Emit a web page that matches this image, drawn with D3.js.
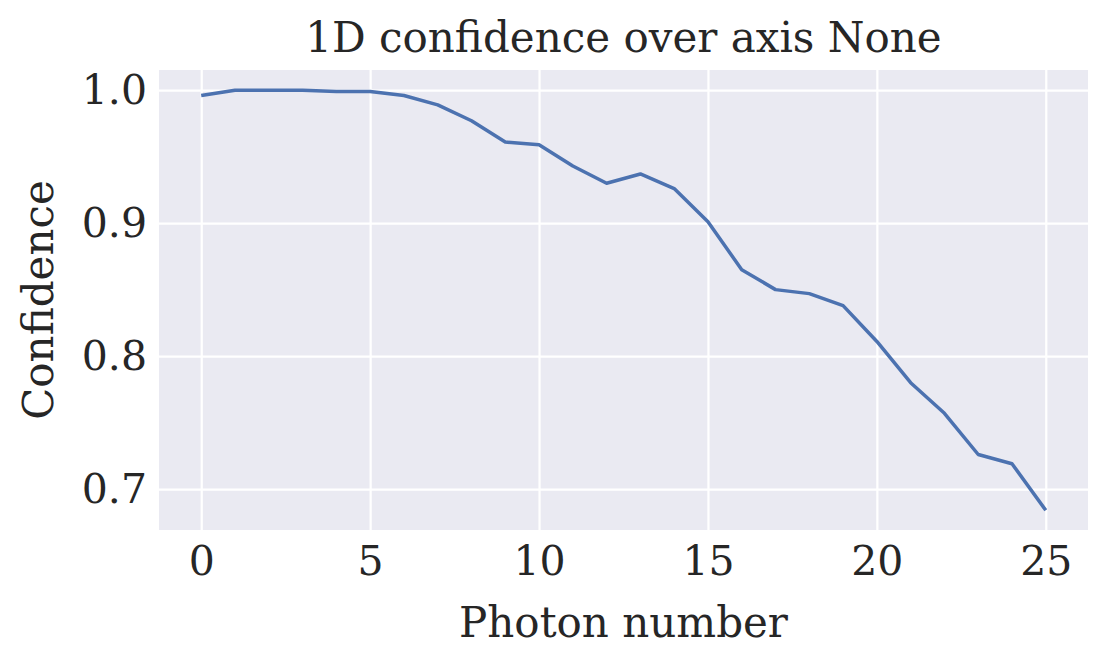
<!DOCTYPE html>
<html><head><meta charset="utf-8">
<script src="https://cdn.jsdelivr.net/npm/d3@7"></script>
<style>body{margin:0;background:#fff}svg{display:block}text{font-family:"DejaVu Serif",serif;fill:#262626}</style>
</head><body><svg id="c" width="1108" height="666"></svg>
<script>
const photons = d3.range(0, 26);
const confidence = [0.996,1.0,1.0,1.0,0.999,0.999,0.996,0.989,0.977,0.961,0.959,0.943,0.930,0.937,0.926,0.901,0.865,0.850,0.847,0.838,0.811,0.780,0.757,0.726,0.719,0.684];
const xTicks = [0,5,10,15,20,25];
const yTicks = [0.7,0.8,0.9,1.0];

const svg = d3.select("#c");
const L=159,R=1088,T=70,B=530;
const x = d3.scaleLinear().domain([-1.25,26.25]).range([L,R]);
const y = d3.scaleLinear().domain([0.6692,1.0152]).range([B,T]);
svg.append("rect").attr("x",L).attr("y",T).attr("width",R-L).attr("height",B-T).attr("fill","#eaeaf2");
const gx = svg.append("g").attr("transform",`translate(0,${B})`)
  .call(d3.axisBottom(x).tickValues(xTicks).tickSize(-(B-T)).tickPadding(16).tickFormat(d3.format("d")));
const gy = svg.append("g").attr("transform",`translate(${L},0)`)
  .call(d3.axisLeft(y).tickValues(yTicks).tickSize(-(R-L)).tickPadding(12).tickFormat(d3.format(".1f")));
[gx,gy].forEach(g=>{g.select(".domain").remove();g.attr("font-size",null).attr("font-family",null);
  g.selectAll("line").attr("stroke","#fff").attr("stroke-width",2.2);
  g.selectAll("text").style("font-size","41px").style("font-family","DejaVu Serif").attr("fill","#262626");});
svg.append("path").datum(photons).attr("fill","none").attr("stroke","#4c72b0").attr("stroke-width",3.5)
  .attr("stroke-linejoin","round")
  .attr("d",d3.line().x(d=>x(d)).y((d,i)=>y(confidence[i])));
svg.append("text").attr("x",(L+R)/2).attr("y",52).attr("text-anchor","middle").style("font-size","42px").text("1D confidence over axis None");
svg.append("text").attr("x",(L+R)/2).attr("y",637).attr("text-anchor","middle").style("font-size","42px").text("Photon number");
svg.append("text").attr("transform",`translate(53,${(T+B)/2}) rotate(-90)`).attr("text-anchor","middle").style("font-size","42px").text("Confidence");
</script></body></html>
